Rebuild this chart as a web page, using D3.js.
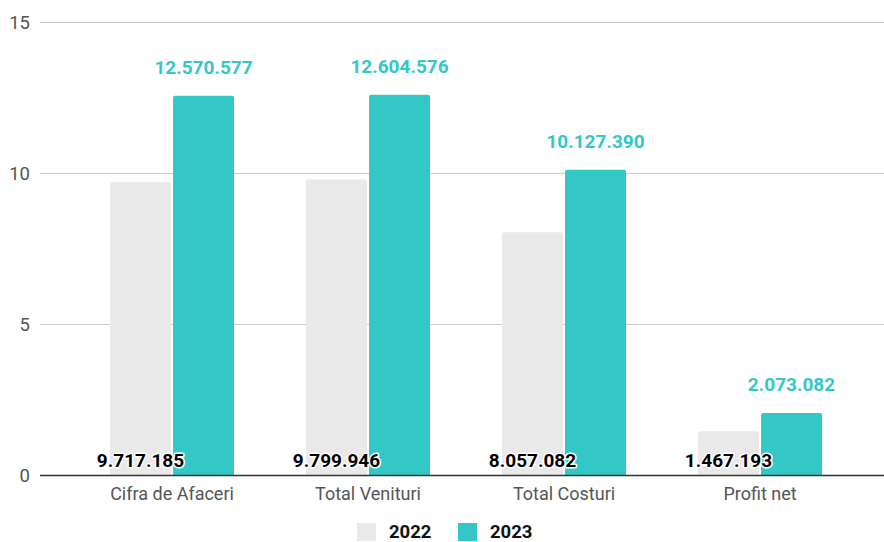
<!DOCTYPE html>
<html><head><meta charset="utf-8">
<script src="https://cdn.jsdelivr.net/npm/d3@7"></script>
<style>body{margin:0;background:#fff;font-family:Roboto,sans-serif}</style>
</head><body><svg id="c" width="884" height="542"></svg>
<script>
const categories = ["Cifra de Afaceri","Total Venituri","Total Costuri","Profit net"];
const series = ["2022","2023"];
const values2022 = [9717185, 9799946, 8057082, 1467193];
const values2023 = [12570577, 12604576, 10127390, 2073082];
const labels2022 = ["9.717.185","9.799.946","8.057.082","1.467.193"];
const labels2023 = ["12.570.577","12.604.576","10.127.390","2.073.082"];
const yTicks = [0,5,10,15];
const colors = {"2022":"#e9e9e9","2023":"#33c8c6"};

const svg = d3.select("#c");
const plotLeft = 40, plotRight = 884, plotTop = 22.5, plotBottom = 475.5;
const y = d3.scaleLinear().domain([0,15]).range([plotBottom, plotTop]);
const x = d3.scaleBand().domain(categories).range([74, 858]).padding(0);
const xs = d3.scaleBand().domain(series).range([36, 160]).paddingInner(0.033);

// grid
svg.append("g").selectAll("line").data(yTicks.filter(d=>d>0)).join("line")
  .attr("x1", plotLeft).attr("x2", plotRight)
  .attr("y1", d=>y(d)).attr("y2", d=>y(d))
  .attr("stroke", "#cccccc").attr("stroke-width", 1);
svg.append("g").selectAll("text").data(yTicks).join("text")
  .attr("x", 30).attr("y", d=>y(d)+6.5).attr("text-anchor","end")
  .attr("font-size", 18.5).attr("fill", "#555").text(d=>d);

const data = [];
categories.forEach((c,i)=>{
  data.push({c, s:"2022", v:values2022[i]/1e6, l:labels2022[i]});
  data.push({c, s:"2023", v:values2023[i]/1e6, l:labels2023[i]});
});

function topRounded(x0, y0, w, h, r){
  return `M${x0},${y0+h}V${y0+r}Q${x0},${y0} ${x0+r},${y0}H${x0+w-r}Q${x0+w},${y0} ${x0+w},${y0+r}V${y0+h}Z`;
}
svg.append("g").selectAll("path").data(data).join("path")
  .attr("d", d=>{
    const x0 = x(d.c)+xs(d.s), w = xs.bandwidth(), y0 = y(d.v), h = plotBottom - y0;
    return topRounded(x0, y0, w, h, 2);
  })
  .attr("fill", d=>colors[d.s]);

// baseline
svg.append("line").attr("x1", plotLeft).attr("x2", plotRight).attr("y1", plotBottom).attr("y2", plotBottom)
  .attr("stroke", "#333").attr("stroke-width", 1.3);

// category labels
svg.append("g").selectAll("text").data(categories).join("text")
  .attr("x", d=>x(d)+x.bandwidth()/2).attr("y", 500).attr("text-anchor","middle")
  .attr("font-size", 18).attr("fill", "#555").text(d=>d);

// value labels 2023
svg.append("g").selectAll("text").data(data.filter(d=>d.s==="2023")).join("text")
  .attr("x", d=>x(d.c)+xs(d.s)+xs.bandwidth()/2).attr("y", d=>y(d.v)-22)
  .attr("text-anchor","middle").attr("font-size", 19).attr("font-weight","bold")
  .attr("fill", colors["2023"]).text(d=>d.l);

// value labels 2022 (with halo)
const l22 = data.filter(d=>d.s==="2022");
svg.append("g").selectAll("text").data(l22).join("text")
  .attr("x", d=>x(d.c)+xs(d.s)+xs.bandwidth()/2).attr("y", 467)
  .attr("text-anchor","middle").attr("font-size", 19).attr("font-weight","bold")
  .attr("fill", "#000").attr("stroke","#fff").attr("stroke-width",3).attr("stroke-linejoin","round")
  .attr("paint-order","stroke").text(d=>d.l);

// legend
const lg = svg.append("g");
const legendX = [357, 458];
series.forEach((s,i)=>{
  lg.append("rect").attr("x", legendX[i]).attr("y", 523).attr("width", 19).attr("height", 18).attr("fill", colors[s]);
  lg.append("text").attr("x", legendX[i]+32).attr("y", 537.5).attr("font-size", 18.5)
    .attr("font-weight","bold").attr("fill","#111").text(s);
});
</script></body></html>
